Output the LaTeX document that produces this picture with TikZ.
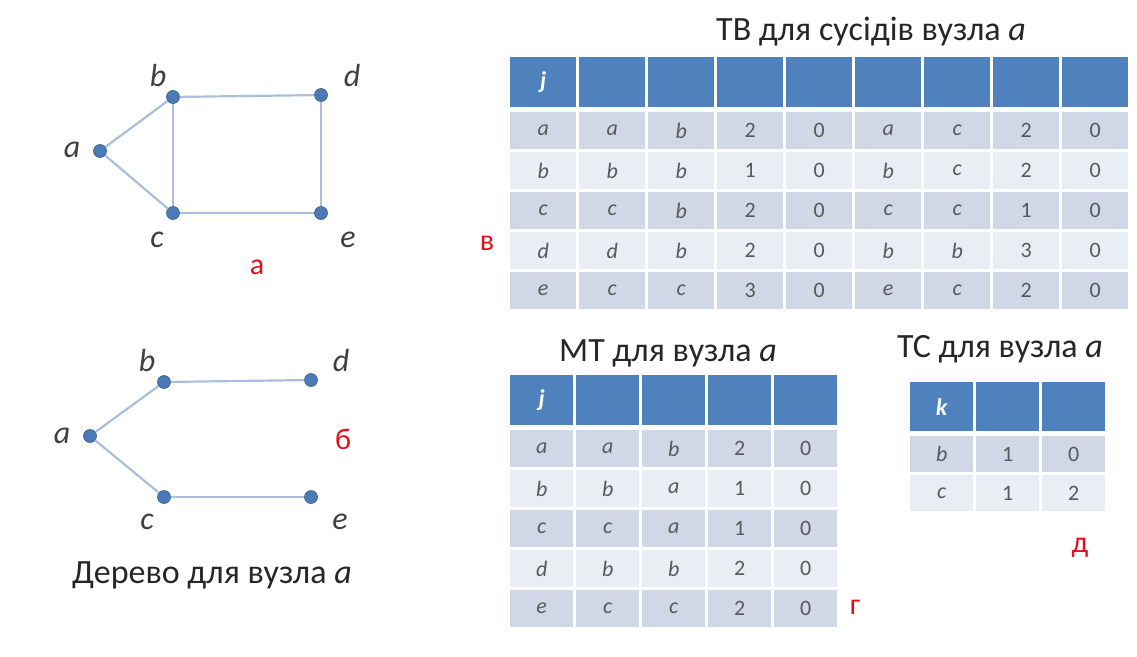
\documentclass[tikz,border=0pt]{standalone}
\usepackage{fontspec}
\setmainfont{Carlito}
\definecolor{hdrblue}{HTML}{4F81BD}
\definecolor{rowdark}{HTML}{D0D8E8}
\definecolor{rowlight}{HTML}{E9EDF4}
\definecolor{celltext}{HTML}{595959}
\definecolor{edgeblue}{HTML}{A9BFDD}
\definecolor{dotblue}{HTML}{4A7BB7}
\definecolor{labred}{HTML}{E3101B}
\definecolor{titlegray}{HTML}{262626}
\newcommand\iv[1]{\textit{#1}}
\begin{document}
\begin{tikzpicture}[x=1pt,y=-1pt,
  vertex/.style={circle,fill=dotblue,draw=dotblue!75!black,line width=0.6pt,inner sep=0pt,minimum size=13pt},
  edge/.style={draw=edgeblue,line width=2.2pt},
  vlabel/.style={font=\fontsize{32}{32}\selectfont\itshape,text=black!75},
  ttl/.style={anchor=base,font=\fontsize{34}{34}\selectfont,text=titlegray},
  redlab/.style={font=\fontsize{30}{30}\selectfont,text=labred},
  hcell/.style={fill=hdrblue,inner sep=0pt,anchor=north west,text=white,
    font=\fontsize{24}{24}\selectfont\bfseries\itshape},
  tcell/.style={inner sep=0pt,anchor=north west,text=celltext,font=\fontsize{22}{22}\selectfont},
]
\useasboundingbox (0,0) rectangle (1137,656);

% ---------- graph (a) ----------
\node[vertex] (ga) at (100,151) {};
\node[vertex] (gb) at (173,97) {};
\node[vertex] (gd) at (321,95) {};
\node[vertex] (gc) at (173,213) {};
\node[vertex] (ge) at (321,213) {};
\draw[edge] (ga) -- (gb);
\draw[edge] (ga) -- (gc);
\draw[edge] (gb) -- (gc);
\draw[edge] (gb) -- (gd);
\draw[edge] (gd) -- (ge);
\draw[edge] (gc) -- (ge);
\node[vlabel] (la) at (72,150) {a};
\node[vlabel] (lb) at (158,75) {b};
\node[vlabel] (ld) at (352,75) {d};
\node[vlabel] (lc) at (157,240) {c};
\node[vlabel] (le) at (348,240) {e};
\node[redlab] (ra) at (257,267) {а};

% ---------- tree (b) ----------
\node[vertex] (ta) at (90,436) {};
\node[vertex] (tb) at (164,382) {};
\node[vertex] (td) at (311,380) {};
\node[vertex] (tc) at (164,497) {};
\node[vertex] (te) at (311,497) {};
\draw[edge] (ta) -- (tb);
\draw[edge] (ta) -- (tc);
\draw[edge] (tb) -- (td);
\draw[edge] (tc) -- (te);
\node[vlabel] (lta) at (62,436) {a};
\node[vlabel] (ltb) at (147,360) {b};
\node[vlabel] (ltd) at (341,360) {d};
\node[vlabel] (ltc) at (147,522) {c};
\node[vlabel] (lte) at (340,522) {e};
\node[redlab] (rb) at (343,439) {б};
\node[ttl] (cap) at (212,583) {Дерево для вузла \iv{a}};

% ---------- table TV ----------
\node[ttl] (tvt) at (871,40) {ТВ для сусідів вузла \iv{a}};
\foreach \v [count=\j] in {j,,,,,,,,}
  \node[hcell,minimum width=66pt,minimum height=50pt] (tvh-\j) at ({510+(\j-1)*69},57) {\v};
\foreach \row [count=\i] in {
  {\iv a,\iv a,\iv b,2,0,\iv a,\iv c,2,0},
  {\iv b,\iv b,\iv b,1,0,\iv b,\iv c,2,0},
  {\iv c,\iv c,\iv b,2,0,\iv c,\iv c,1,0},
  {\iv d,\iv d,\iv b,2,0,\iv b,\iv b,3,0},
  {\iv e,\iv c,\iv c,3,0,\iv e,\iv c,2,0}} {
  \pgfmathsetmacro\shade{mod(\i,2)==1 ? "rowdark" : "rowlight"}
  \foreach \v [count=\j] in \row
    \node[tcell,fill=\shade,minimum width=66pt,minimum height=37pt] (tv-\i-\j)
      at ({510+(\j-1)*69},{112+(\i-1)*40}) {\v};
}
\node[redlab] (rv) at (487,243) {в};

% ---------- table MT ----------
\node[ttl] (mtt) at (668,361) {МТ для вузла \iv{a}};
\foreach \v [count=\j] in {j,,,,}
  \node[hcell,minimum width=63pt,minimum height=50pt] (mth-\j) at ({510+(\j-1)*66},375) {\v};
\foreach \row [count=\i] in {
  {\iv a,\iv a,\iv b,2,0},
  {\iv b,\iv b,\iv a,1,0},
  {\iv c,\iv c,\iv a,1,0},
  {\iv d,\iv b,\iv b,2,0},
  {\iv e,\iv c,\iv c,2,0}} {
  \pgfmathsetmacro\shade{mod(\i,2)==1 ? "rowdark" : "rowlight"}
  \foreach \v [count=\j] in \row
    \node[tcell,fill=\shade,minimum width=63pt,minimum height=37pt] (mt-\i-\j)
      at ({510+(\j-1)*66},{430+(\i-1)*40}) {\v};
}
\node[redlab] (rg) at (855,607) {г};

% ---------- table TC ----------
\node[ttl] (tct) at (1000,357) {ТС для вузла \iv{a}};
\foreach \v [count=\j] in {k,,}
  \node[hcell,minimum width=63pt,minimum height=49pt] (tch-\j) at ({910+(\j-1)*66},382) {\v};
\foreach \row [count=\i] in {
  {\iv b,1,0},
  {\iv c,1,2}} {
  \pgfmathsetmacro\shade{mod(\i,2)==1 ? "rowdark" : "rowlight"}
  \foreach \v [count=\j] in \row
    \node[tcell,fill=\shade,minimum width=63pt,minimum height=36pt] (tc-\i-\j)
      at ({910+(\j-1)*66},{436+(\i-1)*39}) {\v};
}
\node[redlab] (rd) at (1080,548) {д};
\end{tikzpicture}
\end{document}
